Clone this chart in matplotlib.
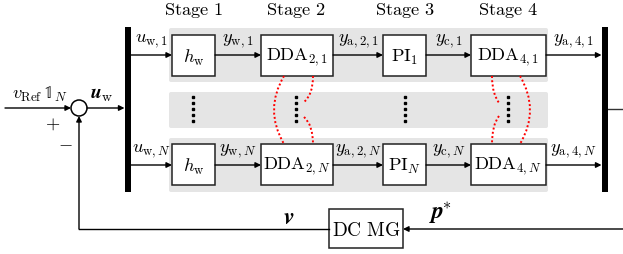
import matplotlib
matplotlib.use("Agg")
import matplotlib.pyplot as plt
import numpy as np
from matplotlib.patches import Rectangle, FancyBboxPatch, Circle
from matplotlib.path import Path
from matplotlib.patches import PathPatch

plt.rcParams['mathtext.fontset'] = 'cm'

# --- diagram content ---
stages = [r'$\mathrm{Stage\ 1}$', r'$\mathrm{Stage\ 2}$', r'$\mathrm{Stage\ 3}$', r'$\mathrm{Stage\ 4}$']
boxes_top = [r'$h_\mathrm{w}$', r'$\mathrm{DDA}_{2,1}$', r'$\mathrm{PI}_1$', r'$\mathrm{DDA}_{4,1}$']
boxes_bot = [r'$h_\mathrm{w}$', r'$\mathrm{DDA}_{2,N}$', r'$\mathrm{PI}_N$', r'$\mathrm{DDA}_{4,N}$']
sig_top = [r'$u_{\mathrm{w},1}$', r'$y_{\mathrm{w},1}$', r'$y_{\mathrm{a},2,1}$', r'$y_{\mathrm{c},1}$', r'$y_{\mathrm{a},4,1}$']
sig_bot = [r'$u_{\mathrm{w},N}$', r'$y_{\mathrm{w},N}$', r'$y_{\mathrm{a},2,N}$', r'$y_{\mathrm{c},N}$', r'$y_{\mathrm{a},4,N}$']
ref_label = r'$v_\mathrm{Ref}\,\mathbb{1}_N$'
uw_label = r'$\boldsymbol{u}_\mathrm{w}$'
v_label = r'$\boldsymbol{v}$'
p_label = r'$\boldsymbol{p}^{\!\!*}$'
plant_label = r'$\mathrm{DC\ MG}$'

# --- layout (pixel coordinates) ---
stage_x = [193, 296, 405, 508]
box_x = [(172, 215), (261, 333), (383, 426), (471, 546)]
row_top = (36, 77)
row_bot = (145, 186)
bar_l = 124.5
bar_r = 601.5
y_top, y_bot = 56, 166
FS = 13.2

fig = plt.figure(figsize=(6.23, 2.55), dpi=100)
ax = fig.add_axes([0, 0, 1, 1])
ax.set_xlim(0, 623)
ax.set_ylim(255, 0)
ax.axis('off')


def arrow(x0, y0, x1, y1):
    ax.annotate('', xy=(x1, y1), xytext=(x0, y0),
                arrowprops=dict(arrowstyle='-|>', mutation_scale=8, lw=1.0,
                                color='black', shrinkA=0, shrinkB=0))


# gray bands
for (y0, y1) in [(29, 83), (93, 129), (139, 193)]:
    ax.add_patch(FancyBboxPatch((170, y0 + 1), 377, y1 - y0 - 2,
                                boxstyle='round,pad=1,rounding_size=2',
                                fc='#e5e5e5', ec='none', zorder=0))

# thick bars
for bx in [bar_l, bar_r]:
    ax.add_patch(Rectangle((bx, 28), 6, 165, fc='black', ec='none', zorder=3))

# stage titles
for sx, s in zip(stage_x, stages):
    ax.text(sx, 10, s, ha='center', va='center', fontsize=FS)

# blocks and signals
for (ya, yb), labels, sigs, yl in [(row_top, boxes_top, sig_top, y_top),
                                   (row_bot, boxes_bot, sig_bot, y_bot)]:
    for (x0, x1), lab in zip(box_x, labels):
        ax.add_patch(Rectangle((x0, ya), x1 - x0, yb - ya, fc='white',
                               ec='#222222', lw=1.1, zorder=2))
        ax.text((x0 + x1) / 2, (ya + yb) / 2 + 1, lab, ha='center', va='center',
                fontsize=FS, zorder=4)
    starts = [bar_l + 6] + [b[1] for b in box_x]
    ends = [b[0] for b in box_x] + [bar_r]
    for xs, xe, sg in zip(starts, ends, sigs):
        arrow(xs, yl, xe, yl)
        ax.text((xs + xe) / 2, yl - 6, sg, ha='center', va='bottom', fontsize=FS)

# vertical dots in the middle band
for sx in stage_x:
    ax.plot([sx] * 5, [98, 104, 110, 116, 122], ls='none', marker='s',
            ms=2.0, color='black')

# red dotted coupling curves (quadratic beziers)
curves = [
    [(284, 77), (264, 111), (284, 145)],
    [(313, 77), (313, 96), (304, 103)],
    [(304, 118), (313, 126), (313, 145)],
    [(492, 77), (492, 96), (500, 105)],
    [(499, 117), (492, 126), (492, 145)],
    [(520, 77), (540, 111), (520, 145)],
]
for pts in curves:
    path = Path(pts, [Path.MOVETO, Path.CURVE3, Path.CURVE3])
    ax.add_patch(PathPatch(path, fc='none', ec='red', lw=1.4,
                           ls=(0, (1, 1.2)), zorder=3))

# summing junction and reference input
cx, cy, r = 79, 109, 8
ax.add_patch(Circle((cx, cy), r, fc='white', ec='black', lw=1.1, zorder=3))
arrow(5, cy, cx - r, cy)
arrow(cx + r, cy, bar_l, cy)
ax.text(40, 104, ref_label, ha='center', va='bottom', fontsize=FS)
ax.text(102, 104, uw_label, ha='center', va='bottom', fontsize=FS + 1)
ax.text(53, 124, r'$+$', ha='center', va='center', fontsize=FS)
ax.text(65, 143, r'$-$', ha='center', va='center', fontsize=FS)

# output and feedback path
ax.plot([bar_r + 6, 623], [110, 110], color='#333333', lw=1.0)
pb = (329, 210, 403, 249)
ax.add_patch(Rectangle((pb[0], pb[1]), pb[2] - pb[0], pb[3] - pb[1], fc='white',
                       ec='#222222', lw=1.1, zorder=2))
ax.text((pb[0] + pb[2]) / 2, (pb[1] + pb[3]) / 2 + 1, plant_label,
        ha='center', va='center', fontsize=FS + 0.8)
arrow(623, 230, pb[2], 230)
ax.plot([pb[0], cx], [230, 230], color='black', lw=1.0)
arrow(cx, 230, cx, cy + r)
ax.text(289, 217, v_label, ha='center', va='center', fontsize=17)
ax.text(440, 213, p_label, ha='center', va='center', fontsize=17)

fig.savefig('out.png', dpi=100)
